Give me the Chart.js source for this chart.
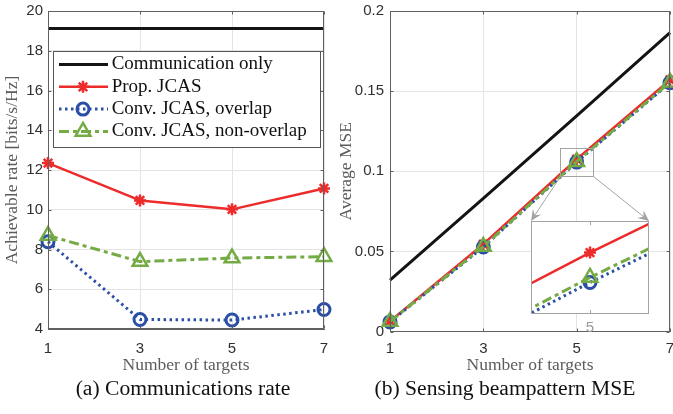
<!DOCTYPE html>
<html>
<head>
<meta charset="utf-8">
<script src="https://cdn.jsdelivr.net/npm/chart.js@4/dist/chart.umd.min.js"></script>
<style>
  html, body { margin: 0; padding: 0; background: #fff; }
  body { position: relative; width: 673px; height: 414px; overflow: hidden; }
  canvas { position: absolute; }
  #rateCanvas { left: 0; top: 0; }
  #mseCanvas { left: 336px; top: 0; }
  #zoomCanvas { left: 520px; top: 210px; }
  .cap {
    position: absolute; top: 377px; line-height: 23px;
    font-family: "Liberation Serif", serif; font-size: 20px; color: #111;
    white-space: nowrap; transform: translateX(-50%) scaleX(1.08);
  }
</style>
</head>
<body>
<canvas id="rateCanvas" width="335" height="380"></canvas>
<canvas id="mseCanvas" width="345" height="380"></canvas>
<canvas id="zoomCanvas" width="140" height="130"></canvas>
<div class="cap" style="left:183px">(a) Communications rate</div>
<div class="cap" style="left:505px">(b) Sensing beampattern MSE</div>

<script>
// ---- data ----
const targets = [1, 3, 5, 7];
const seriesNames = ['Communication only', 'Prop. JCAS', 'Conv. JCAS, overlap', 'Conv. JCAS, non-overlap'];

// (a) achievable rate [bits/s/Hz]
const rateCommOnly   = [19.12, 19.12, 19.12, 19.12];
const rateProp       = [12.35, 10.47, 10.02, 11.07];
const rateOverlap    = [8.39, 4.48, 4.45, 4.98];
const rateNonOverlap = [8.70, 7.39, 7.57, 7.64];

// (b) average beampattern MSE
const mseCommOnly   = [0.0320, 0.0830, 0.1345, 0.1865];
const mseProp       = [0.0064, 0.0545, 0.1075, 0.1570];
const mseOverlap    = [0.0060, 0.0527, 0.1057, 0.1552];
const mseNonOverlap = [0.0062, 0.0530, 0.1060, 0.1555];

// tick values
const xTicks    = [1, 3, 5, 7];
const rateTicks = [4, 6, 8, 10, 12, 14, 16, 18, 20];
const mseTicks  = [0, 0.05, 0.1, 0.15, 0.2];
const zoomTicks = [5];

// ---- styles ----
const styles = [
  { color: '#141414', width: 3,   dash: [],            point: null },
  { color: '#ee2b2b', width: 2.5, dash: [],            point: 'star',     radius: 6,   pw: 2.5 },
  { color: '#2b4ea6', width: 3,   dash: [2.5, 3.5],    point: 'circle',   radius: 6,   pw: 3 },
  { color: '#74ab45', width: 3,   dash: [10, 4, 4, 4], point: 'triangle', radius: 8.5, pw: 2.5 }
];
const tickFont  = { family: 'Liberation Sans', size: 15, lineHeight: 1 };
const titleFont = { family: 'Liberation Serif', size: 17.5, lineHeight: 1 };
const axisColor = '#606060';
const gridColor = '#e4e4e4';

function makeDatasets(series, clip) {
  return series.map((vals, i) => {
    const s = styles[i];
    return {
      label: seriesNames[i],
      data: targets.map((x, j) => ({ x: x, y: vals[j] })),
      order: series.length - i,          // later series are drawn on top
      borderColor: s.color,
      backgroundColor: 'rgba(0,0,0,0)',
      borderWidth: s.width,
      borderDash: s.dash,
      borderCapStyle: 'butt',
      borderJoinStyle: 'round',
      pointStyle: s.point || 'circle',
      pointRadius: s.point ? s.radius : 0,
      pointHoverRadius: s.point ? s.radius : 0,
      pointBorderWidth: s.pw || 0,
      pointBorderColor: s.color,
      pointBackgroundColor: 'rgba(0,0,0,0)',
      tension: 0,
      clip: clip
    };
  });
}

const setTicks = vals => scale => { scale.ticks = vals.map(v => ({ value: v })); };
// fixed scale size, no extra room reserved for overhanging tick labels
const fixSize = (prop, size) => scale => {
  scale[prop] = size;
  scale.paddingTop = scale.paddingBottom = scale.paddingLeft = scale.paddingRight = 0;
};

// box around the plot area with short inward tick marks on all four sides
const frame = {
  id: 'frame',
  afterDraw(chart) {
    const { ctx, chartArea: a, scales } = chart;
    const L = Math.round(a.left) + 0.5, R = Math.round(a.right) - 0.5;
    const T = Math.round(a.top) + 0.5, B = Math.round(a.bottom) - 0.5;
    ctx.save();
    ctx.strokeStyle = axisColor;
    ctx.lineWidth = 1;
    ctx.strokeRect(L, T, R - L, B - T);
    ctx.beginPath();
    scales.x.ticks.forEach(t => {
      const px = Math.round(scales.x.getPixelForValue(t.value)) + 0.5;
      ctx.moveTo(px, B); ctx.lineTo(px, B - 3);
      ctx.moveTo(px, T); ctx.lineTo(px, T + 3);
    });
    scales.y.ticks.forEach(t => {
      const py = Math.round(scales.y.getPixelForValue(t.value)) + 0.5;
      ctx.moveTo(L, py); ctx.lineTo(L + 3, py);
      ctx.moveTo(R, py); ctx.lineTo(R - 3, py);
    });
    ctx.stroke();
    ctx.restore();
  }
};

function drawMarker(ctx, ds, x, y) {
  if (!(ds.pointRadius > 0)) return;
  ctx.save();
  ctx.strokeStyle = ds.pointBorderColor;
  ctx.fillStyle = ds.pointBackgroundColor;
  ctx.lineWidth = ds.pointBorderWidth;
  ctx.setLineDash([]);
  Chart.helpers.drawPoint(ctx, {
    pointStyle: ds.pointStyle, rotation: 0,
    radius: ds.pointRadius, borderWidth: ds.pointBorderWidth
  }, x, y);
  ctx.restore();
}

// legend box in the upper part of the rate plot
const legendBox = {
  id: 'legendBox',
  afterDraw(chart) {
    const { ctx, chartArea: a } = chart;
    const L = Math.round(a.left + 4.7), T = Math.round(a.top + 39.7), W = 267, H = 96;
    ctx.save();
    ctx.fillStyle = '#fff';
    ctx.fillRect(L, T, W, H);
    ctx.strokeStyle = '#555';
    ctx.lineWidth = 1;
    ctx.strokeRect(L + 0.5, T + 0.5, W, H);
    chart.data.datasets.forEach((ds, i) => {
      const y = T + 13.5 + i * 22.3;
      ctx.save();
      ctx.strokeStyle = ds.borderColor;
      ctx.lineWidth = ds.borderWidth;
      ctx.setLineDash(ds.borderDash || []);
      ctx.lineCap = 'butt';
      ctx.beginPath();
      ctx.moveTo(L + 6, y);
      ctx.lineTo(L + 55, y);
      ctx.stroke();
      ctx.restore();
      drawMarker(ctx, ds, L + 30, y);
      ctx.fillStyle = '#111';
      ctx.font = '19px "Liberation Serif"';
      ctx.textBaseline = 'middle';
      ctx.textAlign = 'left';
      ctx.fillText(ds.label, L + 58.7, y);
    });
    ctx.restore();
  }
};

// white background, grey box and tick marks for the magnified view
const zoomFrame = {
  id: 'zoomFrame',
  beforeDraw(chart) {
    const { ctx, chartArea: a } = chart;
    ctx.save();
    ctx.fillStyle = '#fff';
    ctx.fillRect(a.left, a.top, a.right - a.left, a.bottom - a.top);
    ctx.restore();
  },
  afterDraw(chart) {
    const { ctx, chartArea: a, scales } = chart;
    ctx.save();
    ctx.strokeStyle = '#a3a3a3';
    ctx.lineWidth = 1;
    ctx.strokeRect(Math.round(a.left) + 0.5, Math.round(a.top) + 0.5,
                   Math.round(a.right - a.left) - 1, Math.round(a.bottom - a.top) - 1);
    ctx.beginPath();
    scales.x.ticks.forEach(t => {
      const px = Math.round(scales.x.getPixelForValue(t.value)) + 0.5;
      ctx.moveTo(px, a.bottom); ctx.lineTo(px, a.bottom - 4);
      ctx.moveTo(px, a.top); ctx.lineTo(px, a.top + 4);
    });
    ctx.stroke();
    ctx.restore();
  }
};

function baseOptions(padding) {
  return {
    responsive: false,
    animation: false,
    devicePixelRatio: 1,
    events: [],
    layout: { padding: padding },
    plugins: { legend: { display: false }, tooltip: { enabled: false } }
  };
}

// ---- magnified view around five targets ----
const zoomXRange = [4.93, 5.07];
const zoomYRange = [0.1038, 0.1094];
const zoomChart = new Chart(document.getElementById('zoomCanvas'), {
  type: 'line',
  data: { datasets: makeDatasets([mseCommOnly, mseProp, mseOverlap, mseNonOverlap], 0) },
  options: Object.assign(baseOptions({ left: 8, top: 7, right: 9, bottom: 0 }), {
    scales: {
      x: {
        type: 'linear', min: zoomXRange[0], max: zoomXRange[1],
        afterBuildTicks: setTicks(zoomTicks),
        afterFit: fixSize('height', 26),
        grid: { display: false, drawTicks: false },
        border: { display: false },
        ticks: { font: tickFont, color: '#9a9a9a', padding: 6, maxRotation: 0, autoSkip: false }
      },
      y: { type: 'linear', min: zoomYRange[0], max: zoomYRange[1], display: false }
    }
  }),
  plugins: [zoomFrame]
});

// ---- (a) achievable rate ----
new Chart(document.getElementById('rateCanvas'), {
  type: 'line',
  data: { datasets: makeDatasets([rateCommOnly, rateProp, rateOverlap, rateNonOverlap], false) },
  options: Object.assign(baseOptions({ left: 0, top: 8, right: 10, bottom: 0 }), {
    scales: {
      x: {
        type: 'linear', min: 1, max: 7,
        afterBuildTicks: setTicks(xTicks),
        afterFit: fixSize('height', 51),
        grid: { color: gridColor, lineWidth: 1, drawTicks: false },
        border: { display: true, color: axisColor, width: 1 },
        ticks: { font: tickFont, color: '#303030', padding: 12, maxRotation: 0, autoSkip: false },
        title: { display: true, text: 'Number of targets', font: titleFont, color: '#5c5c5c',
                 padding: { top: 0, bottom: 6 } }
      },
      y: {
        type: 'linear', min: 4, max: 20,
        afterBuildTicks: setTicks(rateTicks),
        afterFit: fixSize('width', 48),
        grid: { color: gridColor, lineWidth: 1, drawTicks: false },
        border: { display: true, color: axisColor, width: 1 },
        ticks: { font: tickFont, color: '#303030', padding: 5, autoSkip: false },
        title: { display: true, text: 'Achievable rate [bits/s/Hz]', font: titleFont, color: '#5c5c5c',
                 padding: { top: 4, bottom: 0 } }
      }
    }
  }),
  plugins: [frame, legendBox]
});

// ---- (b) sensing beampattern MSE ----
const zoomRegion = { x: [4.65, 5.35], y: [0.097, 0.1145] };
const zoomMarker = {
  id: 'zoomMarker',
  afterDatasetsDraw(chart) {
    const { ctx, scales: { x, y } } = chart;
    const x0 = Math.round(x.getPixelForValue(zoomRegion.x[0])) + 0.5;
    const x1 = Math.round(x.getPixelForValue(zoomRegion.x[1])) + 0.5;
    const y0 = Math.round(y.getPixelForValue(zoomRegion.y[1])) + 0.5;
    const y1 = Math.round(y.getPixelForValue(zoomRegion.y[0])) + 0.5;
    const mine = chart.canvas.getBoundingClientRect();
    const other = zoomChart.canvas.getBoundingClientRect();
    const za = zoomChart.chartArea;
    const zl = other.left - mine.left + za.left, zr = other.left - mine.left + za.right;
    const zt = other.top - mine.top + za.top;
    ctx.save();
    ctx.strokeStyle = '#a3a3a3';
    ctx.fillStyle = '#a3a3a3';
    ctx.lineWidth = 1;
    ctx.strokeRect(x0, y0, x1 - x0, y1 - y0);
    const arrow = (sx, sy, ex, ey) => {
      const ang = Math.atan2(ey - sy, ex - sx);
      const len = 11, half = 5, notch = 4;
      ctx.beginPath();
      ctx.moveTo(sx, sy);
      ctx.lineTo(ex - Math.cos(ang) * notch, ey - Math.sin(ang) * notch);
      ctx.stroke();
      const bx = ex - Math.cos(ang) * len, by = ey - Math.sin(ang) * len;
      const nx = -Math.sin(ang) * half, ny = Math.cos(ang) * half;
      ctx.beginPath();
      ctx.moveTo(ex, ey);
      ctx.lineTo(bx + nx, by + ny);
      ctx.lineTo(ex - Math.cos(ang) * (len - notch), ey - Math.sin(ang) * (len - notch));
      ctx.lineTo(bx - nx, by - ny);
      ctx.closePath();
      ctx.fill();
    };
    arrow(x0, y1, zl, zt);
    arrow(x1, y1, zr, zt);
    ctx.restore();
  }
};

new Chart(document.getElementById('mseCanvas'), {
  type: 'line',
  data: { datasets: makeDatasets([mseCommOnly, mseProp, mseOverlap, mseNonOverlap], false) },
  options: Object.assign(baseOptions({ left: 0, top: 8, right: 11, bottom: 0 }), {
    scales: {
      x: {
        type: 'linear', min: 1, max: 7,
        afterBuildTicks: setTicks(xTicks),
        afterFit: fixSize('height', 48.5),
        grid: { color: gridColor, lineWidth: 1, drawTicks: false },
        border: { display: true, color: axisColor, width: 1 },
        ticks: { font: tickFont, color: '#303030', padding: 10, maxRotation: 0, autoSkip: false },
        title: { display: true, text: 'Number of targets', font: titleFont, color: '#5c5c5c',
                 padding: { top: 0, bottom: 6 } }
      },
      y: {
        type: 'linear', min: 0, max: 0.2,
        afterBuildTicks: setTicks(mseTicks),
        afterFit: fixSize('width', 54),
        grid: { color: gridColor, lineWidth: 1, drawTicks: false },
        border: { display: true, color: axisColor, width: 1 },
        ticks: {
          font: tickFont, color: '#303030', padding: 6, autoSkip: false,
          callback: v => String(Number(v.toFixed(2)))
        },
        title: { display: true, text: 'Average MSE', font: titleFont, color: '#5c5c5c',
                 padding: { top: 1.25, bottom: 0 } }
      }
    }
  }),
  plugins: [frame, zoomMarker]
});
</script>
</body>
</html>
